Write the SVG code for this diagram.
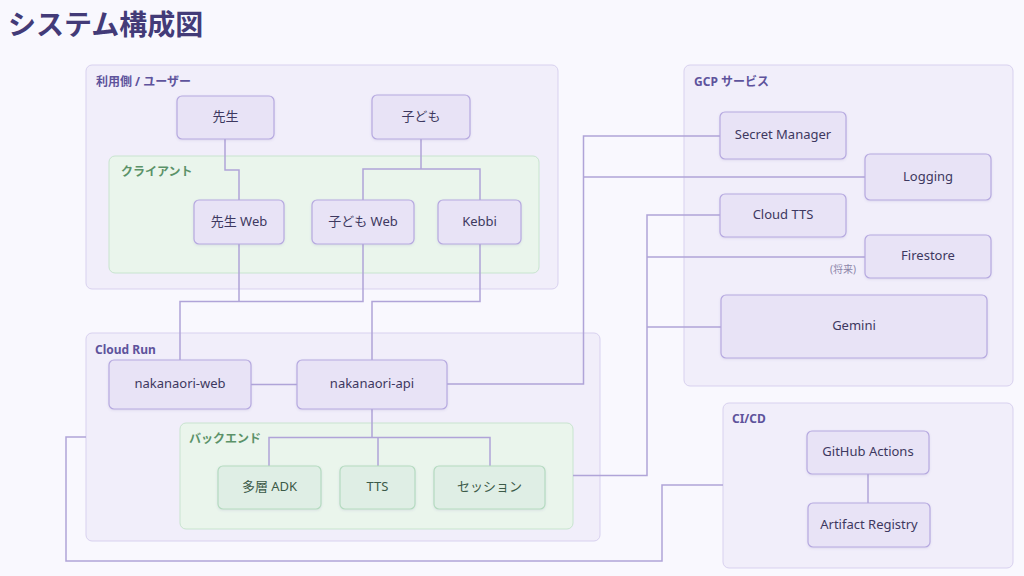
<svg xmlns="http://www.w3.org/2000/svg" width="1024" height="576" viewBox="0 0 1024 576">
<defs>
<filter id="sh" x="-10%" y="-10%" width="120%" height="130%">
<feDropShadow dx="0" dy="1" stdDeviation="1" flood-color="#6a5aa8" flood-opacity="0.15"/>
</filter>
</defs>
<style>
text{font-family:"Noto Sans","Noto Sans CJK JP",sans-serif}
.grp{fill:#f1eefa;stroke:#d8d1ef;stroke-width:1}
.sub{fill:#eaf5ec;stroke:#c8e4cf;stroke-width:1}
.glab{font-size:12px;font-weight:700;fill:#5e539c}
.slab{font-size:12px;font-weight:700;fill:#5b9268}
.node rect{fill:#e8e3f6;stroke:#b6a9e0;stroke-width:1.2;filter:url(#sh)}
.gnode rect{fill:#dfeee5;stroke:#b5dbc0;stroke-width:1.2;filter:url(#sh)}
.node text,.gnode text{font-size:13px;fill:#3d3860;text-anchor:middle;dominant-baseline:central}
.gnode text{fill:#3c5a48}
.conn path{fill:none;stroke:#b0a4d8;stroke-width:1.5}
</style>
<rect width="1024" height="576" fill="#f9f8fe"/>
<text x="8" y="35" style="font-size:28px;font-weight:700;fill:#433b78;font-family:'Noto Sans CJK JP',sans-serif">システム構成図</text>

<g id="group-users">
<rect class="grp" x="86" y="65" width="472" height="224" rx="6"/>
<text class="glab" x="96" y="86">利用側 / ユーザー</text>
</g>
<g id="group-client">
<rect class="sub" x="109" y="156" width="430" height="117" rx="6"/>
<text class="slab" x="121" y="176">クライアント</text>
</g>
<g id="group-gcp">
<rect class="grp" x="684" y="65" width="329" height="321" rx="6"/>
<text class="glab" x="694" y="86">GCP サービス</text>
</g>
<g id="group-cloudrun">
<rect class="grp" x="86" y="333" width="514" height="208" rx="6"/>
<text class="glab" x="95" y="354">Cloud Run</text>
</g>
<g id="group-backend">
<rect class="sub" x="180" y="423" width="393" height="106" rx="6"/>
<text class="slab" x="189" y="443">バックエンド</text>
</g>
<g id="group-cicd">
<rect class="grp" x="723" y="403" width="290" height="165" rx="6"/>
<text class="glab" x="732" y="423">CI/CD</text>
</g>

<g id="connectors" class="conn">
<path d="M225 139 V170 H239 V200"/>
<path d="M421 139 V169 H363 V200 M421 169 H480 V200"/>
<path d="M239 244 V301.5 H180 V360 M363 244 V301.5 H239"/>
<path d="M480 244 V301.5 H372 V360"/>
<path d="M251 384.5 H297"/>
<path d="M447 384 H583.5 V136 H720 M583.5 177 H865"/>
<path d="M372 409 V437.5 H269 V466 M372 437.5 H490 V466 M378 437.5 V466"/>
<path d="M573 475.5 H647 V215 H720 M647 257 H865 M647 327 H721"/>
<path d="M868 474 V503"/>
<path d="M723 485 H662 V561 H66 V437 H86"/>
</g>
<text x="856" y="273" text-anchor="end" style="font-size:10px;fill:#8a84a8">(将来)</text>

<g id="n-sensei" class="node"><rect x="177" y="96" width="97" height="43" rx="5"/><text x="225.5" y="116">先生</text></g>
<g id="n-kodomo" class="node"><rect x="372" y="95" width="98" height="44" rx="5"/><text x="421" y="115.5">子ども</text></g>
<g id="n-sensei-web" class="node"><rect x="194" y="200" width="90" height="44" rx="5"/><text x="239" y="220.5">先生 Web</text></g>
<g id="n-kodomo-web" class="node"><rect x="312" y="200" width="102" height="44" rx="5"/><text x="363" y="220.5">子ども Web</text></g>
<g id="n-kebbi" class="node"><rect x="438" y="200" width="83" height="44" rx="5"/><text x="479.5" y="220.5">Kebbi</text></g>

<g id="n-web" class="node"><rect x="109" y="360" width="142" height="49" rx="5"/><text x="180" y="383">nakanaori-web</text></g>
<g id="n-api" class="node"><rect x="297" y="360" width="150" height="49" rx="5"/><text x="372" y="383">nakanaori-api</text></g>

<g id="n-adk" class="gnode"><rect x="218" y="466" width="103" height="43" rx="5"/><text x="269.5" y="486">多層 ADK</text></g>
<g id="n-tts" class="gnode"><rect x="340" y="466" width="75" height="43" rx="5"/><text x="377.5" y="486">TTS</text></g>
<g id="n-session" class="gnode"><rect x="434" y="466" width="111" height="43" rx="5"/><text x="489.5" y="486">セッション</text></g>

<g id="n-secret" class="node"><rect x="720" y="112" width="126" height="47" rx="5"/><text x="783" y="134">Secret Manager</text></g>
<g id="n-logging" class="node"><rect x="865" y="154" width="126" height="46" rx="5"/><text x="928" y="175.5">Logging</text></g>
<g id="n-cloudtts" class="node"><rect x="720" y="194" width="126" height="43" rx="5"/><text x="783" y="214">Cloud TTS</text></g>
<g id="n-firestore" class="node"><rect x="865" y="235" width="126" height="43" rx="5"/><text x="928" y="255">Firestore</text></g>
<g id="n-gemini" class="node"><rect x="721" y="295" width="266" height="63" rx="5"/><text x="854" y="325">Gemini</text></g>

<g id="n-gha" class="node"><rect x="807" y="431" width="122" height="43" rx="5"/><text x="868" y="451">GitHub Actions</text></g>
<g id="n-ar" class="node"><rect x="808" y="503" width="122" height="44" rx="5"/><text x="869" y="523.5">Artifact Registry</text></g>
</svg>
